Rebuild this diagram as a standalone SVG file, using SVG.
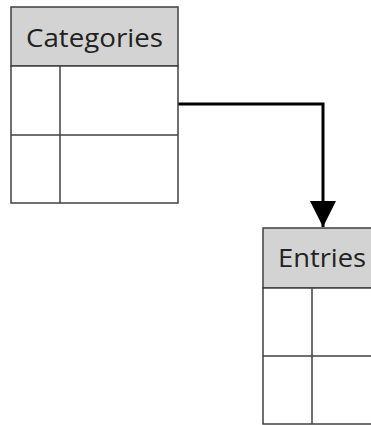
<svg xmlns="http://www.w3.org/2000/svg" width="371" height="425" viewBox="0 0 371 425">
<style>
.hdr{fill:#d3d3d3;stroke:#404040;stroke-width:1.5}
.cell{fill:#fff;stroke:#404040;stroke-width:1.5}
.ln{stroke:#404040;stroke-width:1.5;fill:none}
.t{font-family:"Open Sans","Liberation Sans",sans-serif;font-size:26px;fill:#222;text-anchor:middle}
.conn{stroke:#000;stroke-width:3;fill:none}
</style>
<defs>
<marker id="arr" markerUnits="userSpaceOnUse" markerWidth="28" markerHeight="26" refX="26" refY="13" orient="auto">
<path d="M0,0 L26,13 L0,26 Z" fill="#000"/>
</marker>
</defs>
<g id="connectors">
<path class="conn" d="M178,104 H323 V227" marker-end="url(#arr)"/>
</g>
<g id="categories">
<rect class="hdr" x="11" y="7" width="167" height="59"/>
<rect class="cell" x="11" y="66" width="167" height="137"/>
<line class="ln" x1="11" y1="135" x2="178" y2="135"/>
<line class="ln" x1="60" y1="66" x2="60" y2="203"/>
<text class="t" x="94.5" y="47" textLength="137" lengthAdjust="spacingAndGlyphs">Categories</text>
</g>
<g id="entries">
<rect class="hdr" x="263" y="228" width="120" height="60"/>
<rect class="cell" x="263" y="288" width="120" height="136"/>
<line class="ln" x1="263" y1="356" x2="383" y2="356"/>
<line class="ln" x1="312" y1="288" x2="312" y2="424"/>
<text class="t" x="322" y="267" textLength="88" lengthAdjust="spacingAndGlyphs">Entries</text>
</g>
</svg>
